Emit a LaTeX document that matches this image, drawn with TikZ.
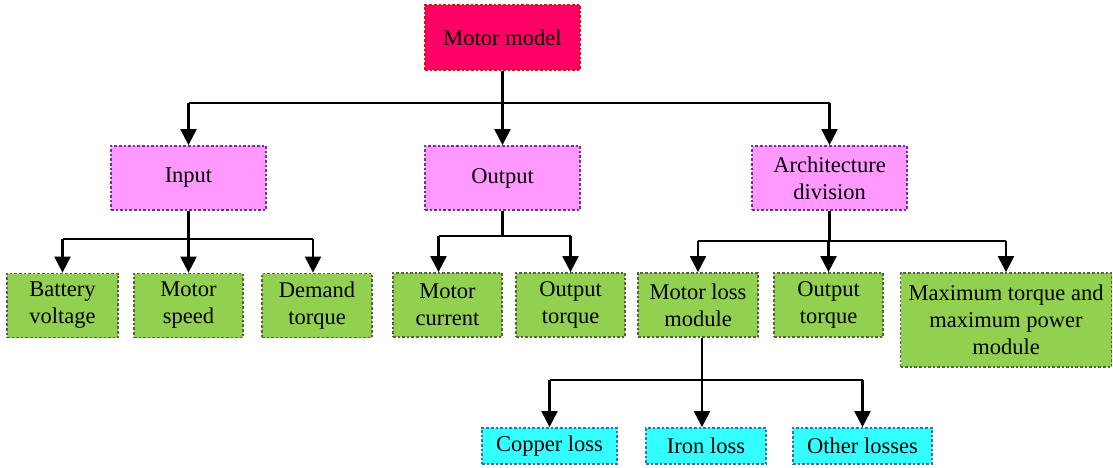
\documentclass[tikz,border=0pt]{standalone}
\usepackage{fontspec}
\setmainfont{Liberation Serif}
\newfontfamily\boxfont{Liberation Serif}
\usepackage{tikz}
\usetikzlibrary{positioning, arrows.meta}
\usepackage{xcolor}
\definecolor{rootfill}{HTML}{FF0066}
\definecolor{midfill}{HTML}{FF99FF}
\definecolor{midline}{HTML}{7030A0}
\definecolor{leaffill}{HTML}{92D050}
\definecolor{leafline}{HTML}{566340}
\definecolor{lossfill}{HTML}{33FFFF}
\definecolor{lossline}{HTML}{2E75B6}

\begin{document}
\begin{tikzpicture}[x=1pt, y=1pt,
    box/.style={draw, dash pattern=on 2.6pt off 2pt, line width=1.8pt, align=center,
        inner sep=0pt, font=\boxfont\fontsize{22.5}{27}\selectfont},
    rootbox/.style={box, fill=rootfill, draw=red, minimum width=155pt, minimum height=65pt},
    midbox/.style={box, fill=midfill, draw=midline, minimum width=155pt, minimum height=64pt},
    leafbox/.style={box, fill=leaffill, draw=leafline, minimum height=64pt},
    lossbox/.style={box, fill=lossfill, draw=lossline, minimum height=36pt},
    link/.style={line width=2.2pt},
    arr/.style={link, -{Triangle[width=16pt, length=16pt]}}]
    \useasboundingbox (0,0) rectangle (1113,-467);

    % Top of the tree
    \node[rootbox] (mm) at (502.5,-37.5) {Motor model};

    % Second level
    \node[midbox] (in)  at (188.5,-178) {Input};
    \node[midbox] (out) at (502.5,-178) {Output};
    \node[midbox] (ad)  at (829.5,-178) {Architecture\\division};

    % Third level
    \node[leafbox, minimum width=111pt] (bv)  at (62.5,-305.5)  {Battery\\voltage};
    \node[leafbox, minimum width=109pt] (ms)  at (188.5,-305.5) {Motor\\speed};
    \node[leafbox, minimum width=110pt] (dt)  at (317,-305.5)   {Demand\\torque};
    \node[leafbox, minimum width=109pt] (mc)  at (447.5,-305)   {Motor\\current};
    \node[leafbox, minimum width=109pt] (ot)  at (570.5,-305)   {Output\\torque};
    \node[leafbox, minimum width=120pt] (ml)  at (698,-305)     {Motor loss\\module};
    \node[leafbox, minimum width=109pt] (ot2) at (828.5,-305)   {Output\\torque};
    \node[leafbox, minimum width=211pt, minimum height=94pt] (mx) at (1006,-320)
        {Maximum torque and\\maximum power\\module};

    % Loss level
    \node[lossbox, minimum width=135pt] (cl) at (549.5,-446) {Copper loss};
    \node[lossbox, minimum width=120pt] (il) at (706,-446)   {Iron loss};
    \node[lossbox, minimum width=139pt] (ol) at (862.5,-446) {Other losses};

    % Motor model -> second level
    \draw[link] (mm.south) -- ++(0,-32) coordinate (bus1);
    \draw[link] (in.north |- bus1) -- (ad.north |- bus1);
    \foreach \n in {in, out, ad}
        \draw[arr] (\n.north |- bus1) -- (\n.north);

    % Input -> inputs
    \coordinate (dttop) at ([xshift=-4pt]dt.north);
    \draw[link] (in.south) -- ++(0,-28) coordinate (bus2);
    \draw[link] (bv.north |- bus2) -- (dttop |- bus2);
    \foreach \n in {bv.north, ms.north, dttop}
        \draw[arr] (\n |- bus2) -- (\n);

    % Output -> outputs
    \coordinate (mctop) at ([xshift=-9pt]mc.north);
    \draw[link] (out.south) -- ++(0,-25) coordinate (bus3);
    \draw[link] (mctop |- bus3) -- (ot.north |- bus3);
    \foreach \n in {mctop, ot.north}
        \draw[arr] (\n |- bus3) -- (\n);

    % Architecture division -> modules
    \draw[link] (ad.south) -- ++(0,-30) coordinate (bus4);
    \draw[link] (ml.north |- bus4) -- (mx.north |- bus4);
    \foreach \n in {ml, ot2, mx}
        \draw[arr] (\n.north |- bus4) -- (\n.north);

    % Motor loss module -> losses
    \coordinate (mlbot) at ([xshift=4pt]ml.south);
    \coordinate (iltop) at ([xshift=-4pt]il.north);
    \draw[link] (mlbot) -- ++(0,-42) coordinate (bus5);
    \draw[link] (cl.north |- bus5) -- (ol.north |- bus5);
    \foreach \n in {cl.north, iltop, ol.north}
        \draw[arr] (\n |- bus5) -- (\n);
\end{tikzpicture}
\end{document}
